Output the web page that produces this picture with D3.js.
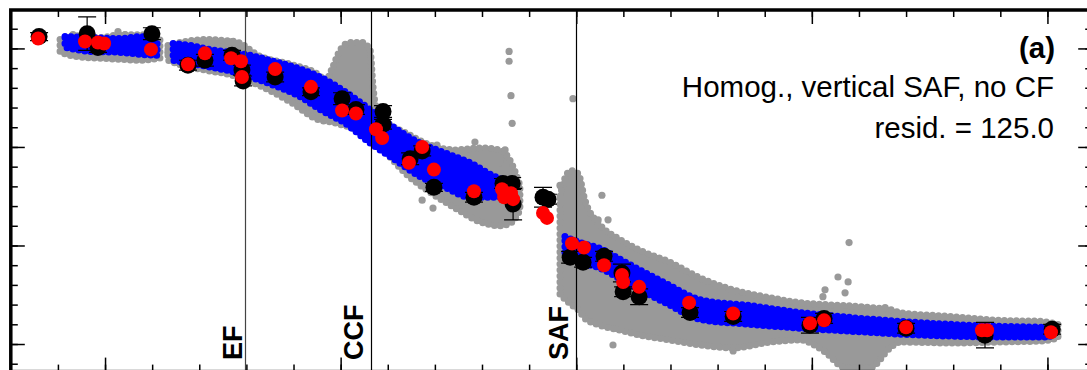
<!DOCTYPE html>
<html>
<head>
<meta charset="utf-8">
<script src="https://cdn.jsdelivr.net/npm/d3@7"></script>
<style>
  body { margin: 0; background: #fff; }
  svg { display: block; font-family: 'Liberation Sans', Arial, Helvetica, sans-serif; }
</style>
</head>
<body>
<div id="chart"></div>
<script>
// distance along profile (km) vs. velocity (mm/yr)
const xMinorTicks = d3.range(-20, 401, 20);
const xMajorTicks = [0, 100, 200, 300, 400];
const yMinorTicks = d3.range(-2, 33, 2);
const yMajorTicks = [0, 10, 20, 30];

const faults = [
  { name: 'EF', x: 59.4 },
  { name: 'CCF', x: 112.9 },
  { name: 'SAF', x: 199.9 }
];

// [x, upper, lower] envelopes of the model cloud (blue) and of the full point cloud (gray)
const blueWest = [[-17.0, 31.2, 30.1], [-6.4, 31.1, 29.7], [6.4, 31.0, 29.6], [14.9, 31.2, 29.4], [22.1, 30.8, 29.3]];
const blueMid = [[28.9, 30.5, 28.8], [36.1, 30.3, 28.5], [44.6, 29.9, 28.1], [53.1, 29.6, 27.7], [61.5, 29.3, 27.1],
  [70.0, 28.8, 26.4], [82.8, 27.9, 25.1], [91.3, 27.1, 23.8], [101.9, 25.6, 22.4], [112.5, 23.8, 20.4],
  [123.1, 21.9, 18.7], [133.7, 20.4, 17.0], [144.3, 19.4, 15.9], [154.9, 18.4, 14.9], [165.5, 17.0, 14.9], [171.1, 16.5, 15.1]];
const blueEast = [[195.2, 10.9, 9.0], [201.6, 10.3, 8.3], [210.1, 9.7, 7.7], [218.6, 8.6, 6.6], [227.1, 7.5, 5.5],
  [238.5, 6.1, 4.1], [252.6, 4.5, 2.5], [273.8, 3.9, 2.0], [295.0, 3.2, 1.6], [316.2, 2.7, 1.3], [337.4, 2.3, 1.0],
  [358.7, 2.0, 0.8], [379.9, 1.8, 0.7], [401.1, 1.7, 0.7]];

const grayWest = [[-19.1, 30.9, 29.6], [-12.7, 31.3, 29.2], [-2.1, 31.1, 29.0], [6.4, 31.4, 28.9], [14.9, 31.4, 28.8], [23.3, 30.9, 29.0]];
const grayMid = [[26.7, 30.3, 28.8], [34.0, 30.7, 28.2], [42.4, 30.9, 27.8], [55.2, 30.7, 27.2], [65.8, 29.2, 26.2],
  [78.5, 28.4, 24.6], [91.3, 27.2, 22.7], [93.4, 26.7, 22.6], [96.8, 28.2, 22.5], [99.7, 29.8, 22.3],
  [104.0, 30.6, 22.0], [109.1, 30.6, 21.4], [112.5, 29.8, 20.8], [113.8, 26.0, 20.5], [115.5, 23.6, 20.2],
  [129.5, 21.2, 16.9], [138.0, 20.2, 15.4], [148.6, 19.7, 13.8], [159.2, 19.9, 12.4], [167.7, 19.7, 12.0],
  [172.8, 18.2, 12.4], [176.1, 16.1, 13.6]];
const grayEast = [[193.1, 15.0, 5.0], [195.5, 17.0, 4.5], [197.8, 17.6, 4.0], [200.8, 17.3, 3.5], [203.7, 14.6, 2.6],
  [210.1, 12.1, 1.9], [218.6, 10.6, 1.4], [227.1, 9.5, 0.9], [239.8, 8.3, 0.4], [252.6, 6.7, -0.1], [266.6, 5.5, -0.4],
  [282.3, 4.7, 0.2], [295.0, 4.2, 0.4], [305.6, 4.0, -0.8], [314.1, 3.9, -2.4], [324.7, 3.7, -2.4], [333.2, 3.5, -0.4],
  [337.4, 3.2, 0.2], [358.7, 2.8, 0.1], [379.9, 2.4, 0.2], [396.9, 2.3, 0.3], [404.5, 2.0, 0.6]];

const grayOutliers = [[-13.6, 31.4], [5.5, 31.7], [8.5, 31.4], [26.7, 29.6], [45.4, 30.7], [53.9, 30.7],
  [171.5, 29.7], [171.5, 28.7], [172.3, 25.2], [172.8, 22.4], [157.0, 20.5], [140.9, 20.2], [147.3, 19.2],
  [169.8, 19.7], [167.7, 18.4], [134.6, 14.6], [139.2, 13.8], [193.1, 16.1], [198.6, 24.9], [210.9, 15.1],
  [213.5, 12.6], [209.3, 12.6], [215.6, -0.1], [266.6, -0.7], [315.8, 10.3], [311.1, 6.8], [315.4, 6.3],
  [314.1, 5.2], [305.6, 5.5], [304.7, 4.8], [321.3, 3.7], [331.1, 3.7]];

// observed [x, v, sigma]
const observed = [[-28.0, 31.2, 0.4], [-7.6, 31.5, 1.7], [-3.0, 30.1, 0.5], [19.9, 31.5, 0.6], [35.2, 28.3, 0.5],
  [42.4, 28.8, 0.6], [53.9, 29.3, 0.5], [58.1, 27.8, 0.5], [58.6, 26.7, 0.5], [72.2, 27.1, 0.5], [87.4, 25.6, 0.4],
  [100.6, 24.9, 0.6], [106.5, 23.8, 0.5], [118.0, 23.6, 0.6], [118.0, 22.3, 0.5], [129.5, 18.8, 0.6],
  [134.6, 19.6, 0.5], [139.6, 15.9, 0.4], [156.6, 14.9, 0.5], [168.9, 16.3, 0.5], [172.8, 16.3, 0.6],
  [173.2, 14.2, 1.6], [185.9, 14.9, 1.0], [188.0, 14.7, 0.5], [197.4, 8.8, 0.6], [202.9, 8.3, 0.5],
  [211.8, 8.9, 0.5], [219.4, 7.2, 0.9], [219.9, 5.3, 0.5], [226.7, 4.8, 0.8], [248.3, 3.2, 0.5],
  [266.6, 2.8, 0.5], [299.2, 1.9, 0.8], [305.2, 2.6, 0.5], [340.0, 1.6, 0.5], [373.5, 0.9, 1.3], [402.0, 1.5, 0.5]];

// model at the sites [x, v]
const predicted = [[-28.4, 31.0], [-8.5, 30.7], [-3.0, 30.6], [-0.4, 30.5], [19.5, 29.9], [35.2, 28.4], [42.4, 29.5],
  [53.5, 29.0], [57.7, 28.7], [58.1, 27.1], [72.2, 27.9], [87.4, 26.1], [100.6, 23.7], [106.5, 23.4], [115.0, 21.8],
  [117.6, 20.9], [129.0, 18.4], [134.6, 20.0], [139.6, 17.7], [156.6, 15.5], [168.5, 15.7], [169.4, 14.9],
  [172.3, 15.3], [173.2, 14.7], [185.9, 13.3], [187.6, 12.8], [198.2, 10.2], [203.3, 9.8], [211.8, 8.0],
  [219.4, 7.0], [219.9, 6.3], [226.7, 5.8], [247.9, 4.2], [266.6, 3.1], [299.2, 2.1], [305.2, 2.4], [340.0, 1.7],
  [372.2, 1.4], [374.4, 1.4], [401.5, 1.2]];

const titleLines = ['Homog., vertical SAF, no CF', 'resid. = 125.0'];
const panelLabel = '(a)';

const width = 1087, height = 370;
const svg = d3.select('#chart').append('svg')
  .attr('width', width)
  .attr('height', height);

const x = d3.scaleLinear().domain([-40, 419]).range([10.8, 1092.2]);
const y = d3.scaleLinear().domain([-2.8, 33.9]).range([371.6, 10]);

const band = d3.area()
  .x(d => x(d[0]))
  .y0(d => y(d[2]))
  .y1(d => y(d[1]))
  .curve(d3.curveMonotoneX);

// filled envelope, edged with a dotted round stroke so the outline reads as a rim of dots
function cloud(segments, color, dot) {
  svg.append('g').selectAll('path')
    .data(segments)
    .enter().append('path')
      .attr('d', band)
      .attr('fill', color)
      .attr('stroke', color)
      .attr('stroke-width', dot)
      .attr('stroke-linecap', 'round')
      .attr('stroke-linejoin', 'round')
      .attr('stroke-dasharray', '0,' + (dot - 1));
}

cloud([grayWest, grayMid, grayEast], '#999999', 7);
svg.append('g').selectAll('circle')
  .data(grayOutliers)
  .enter().append('circle')
    .attr('cx', d => x(d[0]))
    .attr('cy', d => y(d[1]))
    .attr('r', 3.6)
    .attr('fill', '#999999');
cloud([blueWest, blueMid, blueEast], '#0000ff', 7);

// fault traces
svg.append('g').selectAll('line')
  .data(faults)
  .enter().append('line')
    .attr('x1', d => Math.round(x(d.x)) + 0.5)
    .attr('x2', d => Math.round(x(d.x)) + 0.5)
    .attr('y1', y.range()[1])
    .attr('y2', y.range()[0])
    .attr('stroke', d => d.name === 'EF' ? '#444' : '#000')
    .attr('stroke-width', 1.2);

const labelGap = { EF: 3, CCF: 8, SAF: 8 };
svg.append('g').selectAll('text')
  .data(faults)
  .enter().append('text')
    .attr('transform', d => 'translate(' + (x(d.x) - labelGap[d.name]) + ',360) rotate(-90)')
    .attr('font-size', 27)
    .attr('font-weight', 'bold')
    .text(d => d.name);

// observations with error bars
const obs = svg.append('g');
obs.selectAll('.err')
  .data(observed)
  .enter().append('path')
    .attr('class', 'err')
    .attr('d', d => {
      const cx = x(d[0]), lo = y(d[1] - d[2]), hi = y(d[1] + d[2]);
      return 'M' + cx + ',' + lo + 'V' + hi + 'M' + (cx - 9) + ',' + lo + 'H' + (cx + 9) + 'M' + (cx - 9) + ',' + hi + 'H' + (cx + 9);
    })
    .attr('stroke', '#000')
    .attr('stroke-width', 1.2)
    .attr('fill', 'none');
obs.selectAll('circle')
  .data(observed)
  .enter().append('circle')
    .attr('cx', d => x(d[0]))
    .attr('cy', d => y(d[1]))
    .attr('r', 8.5)
    .attr('fill', '#000');

svg.append('g').selectAll('circle')
  .data(predicted)
  .enter().append('circle')
    .attr('cx', d => x(d[0]))
    .attr('cy', d => y(d[1]))
    .attr('r', 7)
    .attr('fill', '#ff0000');

// frame with inward ticks on all four sides
const [plotLeft, plotRight] = x.range();
const [plotBottom, plotTop] = y.range();
function ticks(axis, values, size, transform) {
  svg.append('g')
    .attr('transform', transform)
    .call(axis.tickValues(values).tickSize(size).tickSizeOuter(0).tickFormat(''))
    .call(g => g.select('.domain').remove())
    .call(g => g.selectAll('line').attr('stroke-width', 1.5));
}
ticks(d3.axisTop(x), xMinorTicks, -7, 'translate(0,' + plotTop + ')');
ticks(d3.axisTop(x), xMajorTicks, -14, 'translate(0,' + plotTop + ')');
ticks(d3.axisBottom(x), xMinorTicks, -7, 'translate(0,' + plotBottom + ')');
ticks(d3.axisBottom(x), xMajorTicks, -14, 'translate(0,' + plotBottom + ')');
ticks(d3.axisLeft(y), yMinorTicks, -7, 'translate(' + plotLeft + ',0)');
ticks(d3.axisLeft(y), yMajorTicks, -14, 'translate(' + plotLeft + ',0)');
ticks(d3.axisRight(y), yMinorTicks, -7, 'translate(' + plotRight + ',0)');
ticks(d3.axisRight(y), yMajorTicks, -14, 'translate(' + plotRight + ',0)');

svg.append('rect')
  .attr('x', plotLeft)
  .attr('y', plotTop)
  .attr('width', plotRight - plotLeft)
  .attr('height', plotBottom - plotTop)
  .attr('fill', 'none')
  .attr('stroke', '#000')
  .attr('stroke-width', 3.5);

// annotation
const note = svg.append('g').attr('text-anchor', 'end').attr('font-size', 29.5);
note.append('text')
  .attr('x', 1055)
  .attr('y', 58)
  .attr('font-weight', 'bold')
  .text(panelLabel);
note.selectAll('.line')
  .data(titleLines)
  .enter().append('text')
    .attr('class', 'line')
    .attr('x', 1054)
    .attr('y', (d, i) => 97 + i * 41)
    .text(d => d);
</script>
</body>
</html>
